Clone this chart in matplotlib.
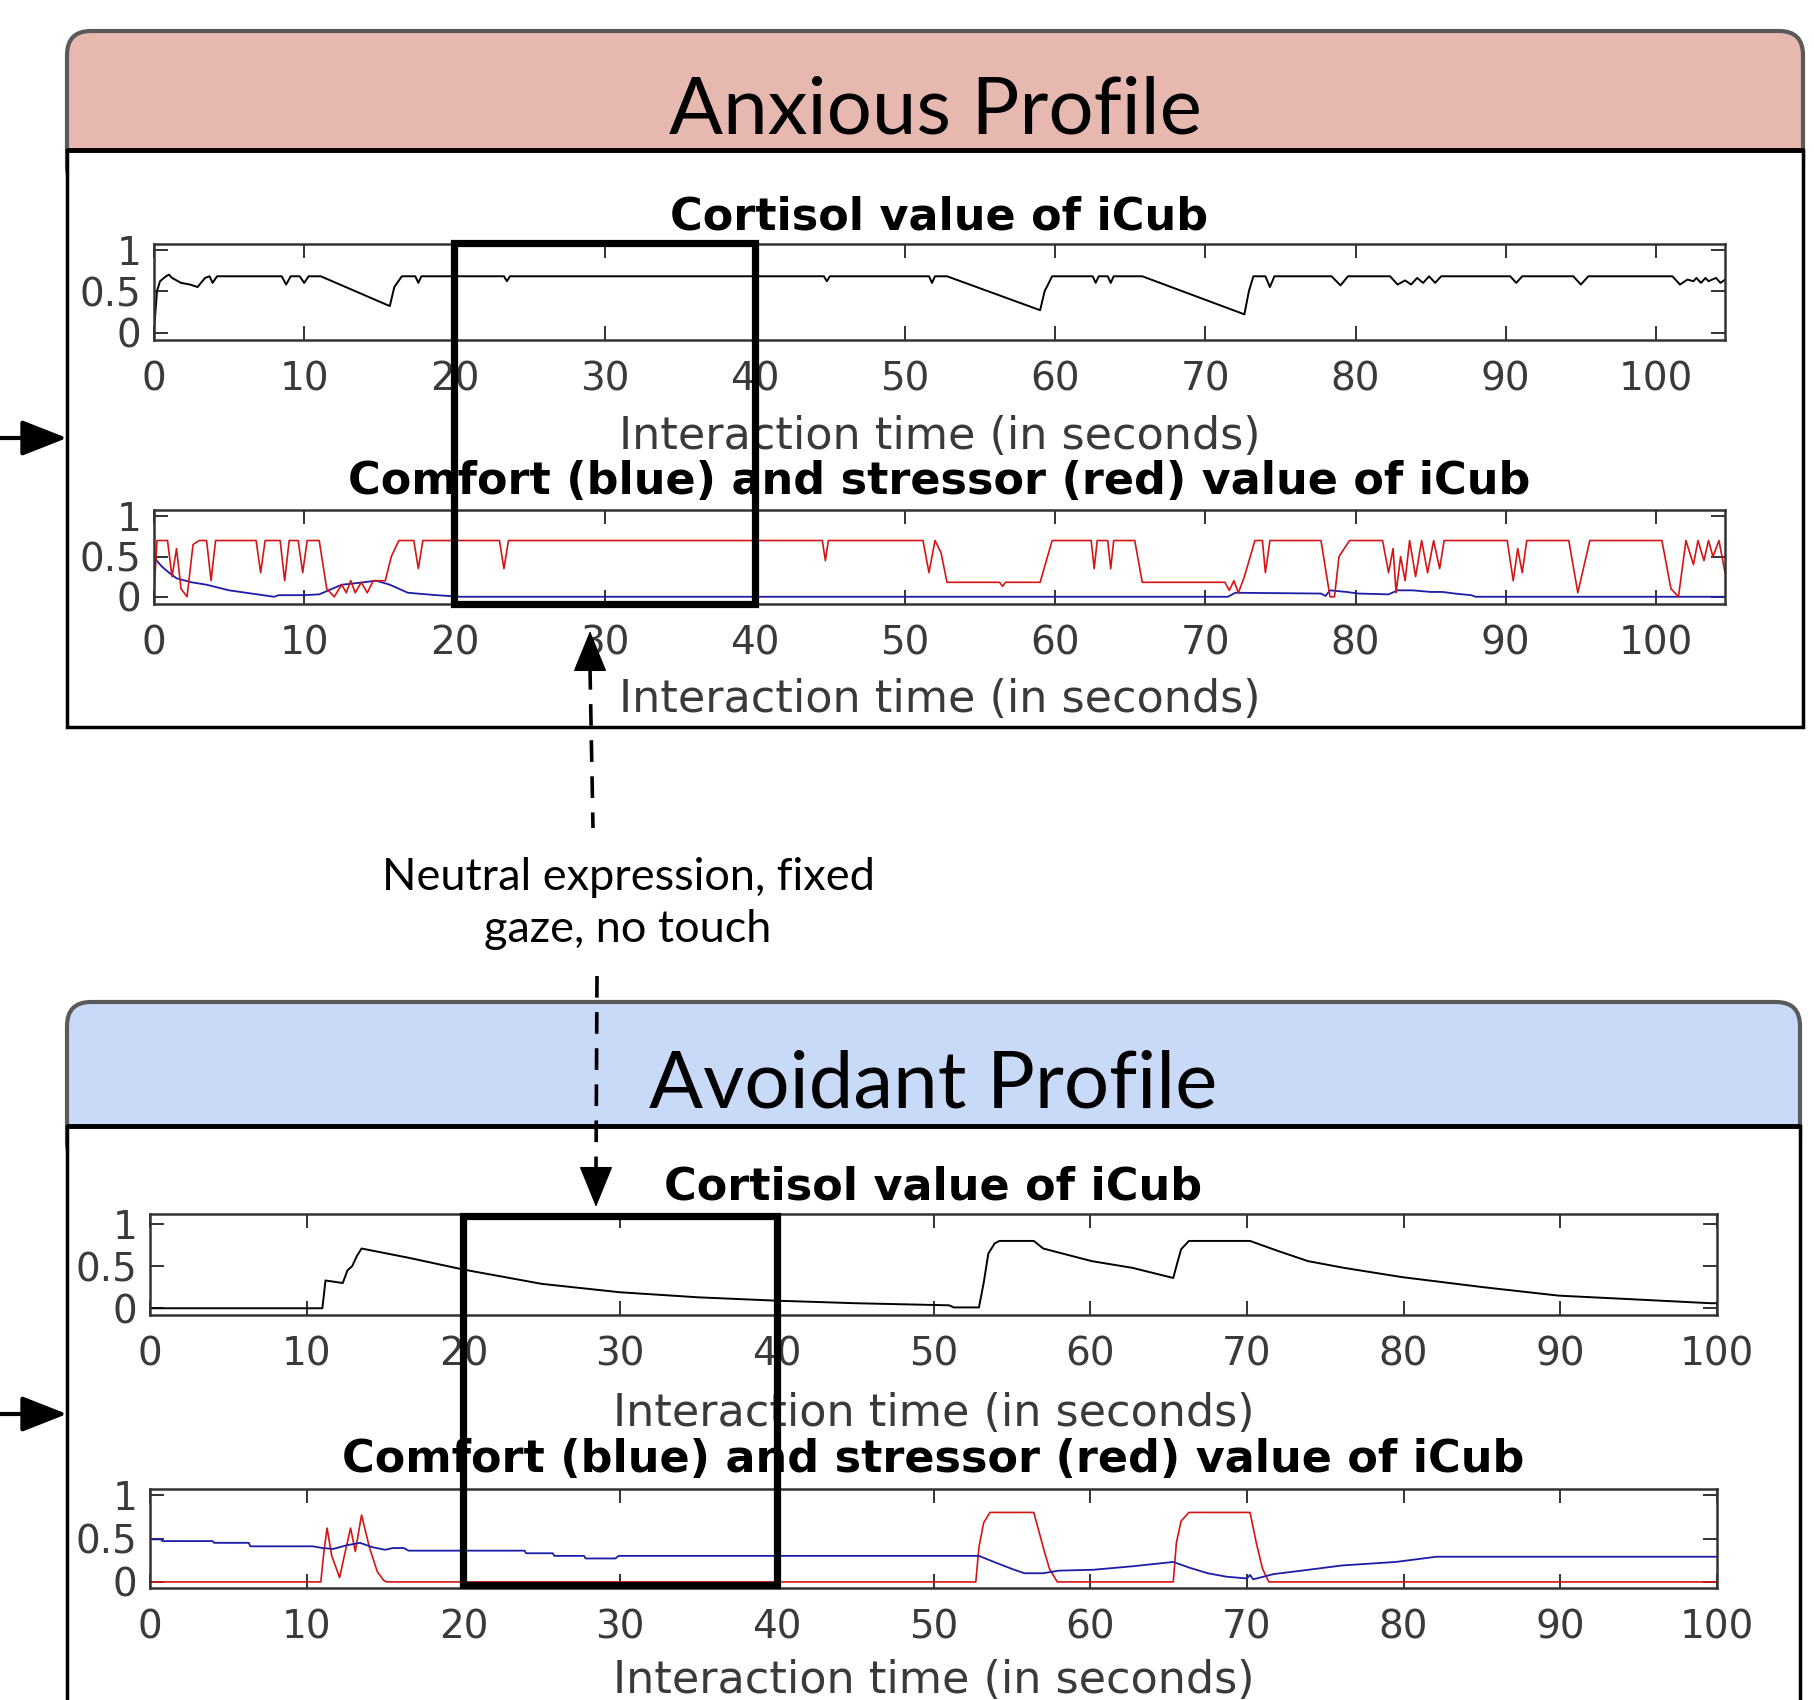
import matplotlib
matplotlib.use("Agg")
import matplotlib.pyplot as plt
from matplotlib.patches import FancyBboxPatch, Rectangle
from matplotlib.transforms import blended_transform_factory

W, H = 1815, 1700

# ---------------- data (time in s, value) ----------------
# Anxious profile: cortisol
anx_cort_t = [0.0, 0.2, 0.4, 0.8, 1.0, 1.2, 1.8, 2.4, 2.9, 3.4, 3.7, 3.9, 4.2,
              8.5, 8.8, 9.1, 9.7, 10.0, 10.3, 11.1, 15.7, 16.0, 16.5, 17.4, 17.6, 17.8,
              23.3, 23.5, 23.7, 44.6, 44.8, 45.0, 51.6, 51.8, 52.0, 52.8, 59.0, 59.3, 59.8,
              62.5, 62.7, 62.9, 63.5, 63.7, 63.9, 65.8, 72.6, 72.9, 73.2, 74.0, 74.3, 74.6,
              78.4, 79.0, 79.5, 82.3, 82.8, 83.3, 83.7, 84.1, 84.5, 84.9, 85.3, 85.7,
              90.3, 90.7, 91.1, 94.5, 95.0, 95.5, 101.1, 101.6, 102.1, 102.5, 102.7, 103.0,
              103.3, 103.5, 104.0, 104.3, 104.6]
anx_cort_v = [0.02, 0.50, 0.62, 0.68, 0.70, 0.66, 0.60, 0.58, 0.55, 0.66, 0.68, 0.60, 0.68,
              0.68, 0.58, 0.68, 0.68, 0.60, 0.68, 0.68, 0.32, 0.55, 0.68, 0.68, 0.60, 0.68,
              0.68, 0.62, 0.68, 0.68, 0.62, 0.68, 0.68, 0.60, 0.68, 0.68, 0.27, 0.50, 0.68,
              0.68, 0.60, 0.68, 0.68, 0.60, 0.68, 0.68, 0.22, 0.50, 0.68, 0.68, 0.55, 0.68,
              0.68, 0.57, 0.68, 0.68, 0.58, 0.63, 0.58, 0.66, 0.60, 0.68, 0.60, 0.68,
              0.68, 0.60, 0.68, 0.68, 0.58, 0.68, 0.68, 0.58, 0.64, 0.62, 0.66, 0.60,
              0.66, 0.62, 0.66, 0.60, 0.64]

# Anxious profile: stressor (red)
anx_str_t = [0.0, 0.2, 0.9, 1.2, 1.5, 1.8, 2.2, 2.6, 3.0, 3.5, 3.8, 4.1,
             6.8, 7.1, 7.4, 8.4, 8.7, 9.0, 9.6, 9.9, 10.2, 11.0,
             11.5, 12.0, 12.5, 12.8, 13.1, 13.4, 13.8, 14.2, 14.6, 15.4, 15.8, 16.3,
             17.3, 17.6, 17.9, 23.0, 23.3, 23.6, 44.5, 44.7, 44.9,
             51.2, 51.6, 52.0, 52.4, 52.8, 56.3, 56.5, 56.7, 59.0, 59.8,
             62.4, 62.6, 62.8, 63.5, 63.7, 63.9, 65.3, 65.8,
             71.3, 71.6, 71.9, 72.2, 72.6, 73.3, 73.8, 74.0, 74.3,
             77.7, 78.3, 78.6, 78.9, 79.6, 81.8, 82.2, 82.5, 82.7, 83.0, 83.3, 83.6,
             84.0, 84.4, 84.8, 85.2, 85.6, 85.9,
             90.1, 90.5, 90.8, 91.1, 91.4, 94.2, 94.8, 95.6,
             100.4, 101.0, 101.5, 102.0, 102.5, 102.8, 103.2, 103.5, 103.8, 104.2, 104.6]
anx_str_v = [0.05, 0.70, 0.70, 0.25, 0.60, 0.10, 0.00, 0.65, 0.70, 0.70, 0.20, 0.70,
             0.70, 0.30, 0.70, 0.70, 0.20, 0.70, 0.70, 0.30, 0.70, 0.70,
             0.10, 0.00, 0.15, 0.05, 0.20, 0.05, 0.18, 0.05, 0.20, 0.20, 0.50, 0.70,
             0.70, 0.35, 0.70, 0.70, 0.35, 0.70, 0.70, 0.45, 0.70,
             0.70, 0.30, 0.70, 0.55, 0.18, 0.18, 0.13, 0.18, 0.18, 0.70,
             0.70, 0.35, 0.70, 0.70, 0.35, 0.70, 0.70, 0.18,
             0.18, 0.08, 0.20, 0.05, 0.25, 0.70, 0.70, 0.30, 0.70,
             0.70, 0.00, 0.00, 0.50, 0.70, 0.70, 0.30, 0.60, 0.05, 0.50, 0.20, 0.70,
             0.25, 0.70, 0.30, 0.70, 0.35, 0.70,
             0.70, 0.20, 0.60, 0.30, 0.70, 0.70, 0.05, 0.70,
             0.70, 0.10, 0.00, 0.70, 0.40, 0.70, 0.45, 0.70, 0.50, 0.70, 0.30]

# Anxious profile: comfort (blue)
anx_com_t = [0.0, 0.5, 1.0, 1.5, 2.5, 3.5, 5.0, 6.5, 8.0, 8.3, 10.0, 11.0, 12.5, 13.5,
             14.8, 15.7, 16.9, 18.8, 20.4, 71.5, 72.0, 77.7, 78.0, 78.3, 79.4, 80.2,
             82.2, 82.8, 83.8, 85.0, 85.8, 86.6, 87.7, 88.0, 104.6]
anx_com_v = [0.49, 0.38, 0.30, 0.23, 0.18, 0.15, 0.08, 0.04, 0.00, 0.02, 0.02, 0.03, 0.15, 0.17,
             0.20, 0.15, 0.05, 0.02, 0.00, 0.00, 0.05, 0.04, 0.01, 0.08, 0.06, 0.04,
             0.03, 0.08, 0.08, 0.06, 0.06, 0.04, 0.02, 0.00, 0.00]

# Avoidant profile: cortisol
avo_cort_t = [0.0, 11.0, 11.2, 12.3, 12.6, 12.9, 13.2, 13.5, 16.5, 20.0, 25.0, 30.0, 35.0,
              40.0, 45.0, 51.0, 51.3, 52.9, 53.2, 53.5, 53.9, 54.2, 56.4, 57.0, 60.1, 62.7,
              65.3, 65.5, 65.8, 66.3, 70.2, 72.0, 73.9, 76.2, 79.9, 85.1, 89.9, 94.8, 99.6, 100.0]
avo_cort_v = [0.00, 0.00, 0.33, 0.30, 0.45, 0.50, 0.62, 0.71, 0.60, 0.46, 0.29, 0.19, 0.13,
              0.09, 0.06, 0.035, 0.01, 0.01, 0.30, 0.65, 0.77, 0.80, 0.80, 0.71, 0.56, 0.48,
              0.36, 0.50, 0.70, 0.80, 0.80, 0.68, 0.56, 0.48, 0.37, 0.25, 0.15, 0.105, 0.06, 0.06]

# Avoidant profile: stressor (red)
avo_str_t = [0.0, 10.9, 11.1, 11.3, 11.6, 12.1, 12.4, 12.8, 13.1, 13.5, 14.0, 14.5, 14.9, 15.1,
             52.7, 52.9, 53.2, 53.6, 56.4, 56.7, 57.0, 57.4, 57.9,
             65.3, 65.5, 65.8, 66.3, 70.2, 70.6, 71.0, 71.4, 100.0]
avo_str_v = [0.00, 0.00, 0.35, 0.62, 0.30, 0.05, 0.30, 0.62, 0.35, 0.77, 0.40, 0.12, 0.02, 0.00,
             0.00, 0.40, 0.68, 0.80, 0.80, 0.60, 0.40, 0.15, 0.00,
             0.00, 0.45, 0.70, 0.80, 0.80, 0.45, 0.15, 0.00, 0.00]

# Avoidant profile: comfort (blue)
avo_com_t = [0.0, 0.7, 0.8, 4.0, 4.1, 6.3, 6.4, 10.4, 11.0, 11.7, 12.5, 13.4, 14.2, 15.0, 15.5,
             16.2, 16.5, 23.9, 24.0, 25.7, 25.8, 27.7, 27.8, 29.7, 29.9, 52.9, 54.0, 55.0,
             55.8, 57.0, 58.0, 60.2, 62.7, 65.3, 66.4, 67.5, 68.7, 70.0, 70.2, 70.4, 71.7,
             73.5, 76.1, 79.5, 82.1, 100.0]
avo_com_v = [0.49, 0.49, 0.47, 0.47, 0.45, 0.45, 0.41, 0.41, 0.39, 0.38, 0.42, 0.45, 0.40, 0.37, 0.39,
             0.39, 0.36, 0.36, 0.33, 0.33, 0.30, 0.30, 0.27, 0.27, 0.30, 0.30, 0.22, 0.15,
             0.10, 0.10, 0.13, 0.14, 0.18, 0.23, 0.16, 0.10, 0.06, 0.04, 0.08, 0.03, 0.09,
             0.13, 0.19, 0.23, 0.29, 0.29]

XTICKS = list(range(0, 101, 10))
YTICKS = [0, 0.5, 1]
YTICKLABELS = ['0', '0.5', '1']

CORT_TITLE = 'Cortisol value of iCub'
CS_TITLE = 'Comfort (blue) and stressor (red) value of iCub'
XLABEL = 'Interaction time (in seconds)'

RED = '#d41515'
BLUE = '#1c1ca8'
GRAY = '#3a3a3a'

fig = plt.figure(figsize=(W / 100, H / 100), dpi=100)


def px_rect(l, t, r, b):
    return [l / W, 1 - b / H, (r - l) / W, (b - t) / H]


def ftext(x, y, s, **kw):
    return fig.text(x / W, 1 - y / H, s, **kw)


# background: panels, headers
bg = fig.add_axes([0, 0, 1, 1], zorder=0)
bg.set_xlim(0, W)
bg.set_ylim(H, 0)
bg.axis('off')

panels = [((67, 31, 1803, 150, 727), '#e6b8af', 'Anxious Profile', 133, 438),
          ((67, 1002, 1800, 1126, 1720), '#c9daf8', 'Avoidant Profile', 1108, 1414)]
for (l, top, r, hb, bb), col, name, base, ay in panels:
    bg.add_patch(FancyBboxPatch((l, top), r - l, hb - top + 40,
                                boxstyle='round,pad=0,rounding_size=24',
                                fc=col, ec='#5a5a5a', lw=3))
    bg.add_patch(Rectangle((l, hb), r - l, bb - hb, fc='white', ec='black', lw=2.5))
    bg.plot([l, r], [hb, hb], color='black', lw=3.5, solid_capstyle='butt')
    bg.text((l + r) / 2, base, name, ha='center', va='baseline', family='Lato',
            fontsize=57.5, color='black')
    bg.annotate('', xy=(l, ay), xytext=(0, ay),
                arrowprops=dict(arrowstyle='-|>,head_length=1.4,head_width=0.55',
                                lw=3, color='black', mutation_scale=20,
                                shrinkA=0, shrinkB=0))


def setup(ax, xmax, ylim):
    ax.set_xlim(0, xmax)
    ax.set_ylim(*ylim)
    ax.set_xticks(XTICKS)
    ax.set_yticks(YTICKS, YTICKLABELS)
    ax.tick_params(direction='in', top=True, right=True, length=10, width=1.4,
                   color='#333333', labelsize=28, labelcolor=GRAY)
    ax.tick_params(axis='x', pad=15)
    ax.tick_params(axis='y', pad=9)
    for s in ax.spines.values():
        s.set_linewidth(1.8)
        s.set_color('#333333')


boxes = [(154, 244, 1725, 340), (154, 510, 1725, 604),
         (150, 1214, 1717, 1315), (150, 1489, 1717, 1588)]
ax1 = fig.add_axes(px_rect(*boxes[0]), zorder=1)
ax2 = fig.add_axes(px_rect(*boxes[1]), zorder=1)
ax3 = fig.add_axes(px_rect(*boxes[2]), zorder=1)
ax4 = fig.add_axes(px_rect(*boxes[3]), zorder=1)

setup(ax1, 104.6, (-0.09, 1.07))
setup(ax2, 104.6, (-0.09, 1.08))
setup(ax3, 100, (-0.08, 1.12))
setup(ax4, 100, (-0.07, 1.07))

ax1.plot(anx_cort_t, anx_cort_v, color='black', lw=1.4)
ax2.plot(anx_com_t, anx_com_v, color=BLUE, lw=1.3)
ax2.plot(anx_str_t, anx_str_v, color=RED, lw=1.2)
ax3.plot(avo_cort_t, avo_cort_v, color='black', lw=1.4)
ax4.plot(avo_str_t, avo_str_v, color=RED, lw=1.2)
ax4.plot(avo_com_t, avo_com_v, color=BLUE, lw=1.3)

# titles and x labels
text_pos = [(boxes[0], CORT_TITLE, 229, 449), (boxes[1], CS_TITLE, 494, 712),
            (boxes[2], CORT_TITLE, 1199, 1426), (boxes[3], CS_TITLE, 1472, 1693)]
for (l, t, r, b), title, tb, xb in text_pos:
    cx = (l + r) / 2
    ftext(cx, tb, title, ha='center', va='baseline', fontsize=32, fontweight='bold',
          color='black')
    ftext(cx, xb, XLABEL, ha='center', va='baseline', fontsize=32, color=GRAY)

# highlighted 20-40 s windows
for axd, top, bottom in [(ax1, 243, 604), (ax3, 1216, 1585)]:
    tr = blended_transform_factory(axd.transData, fig.transFigure)
    fig.add_artist(Rectangle((20, 1 - bottom / H), 20, (bottom - top) / H, transform=tr,
                             fill=False, ec='black', lw=5.2, joinstyle='miter', zorder=5))

# dashed arrows and annotation
ov = fig.add_axes([0, 0, 1, 1], zorder=6)
ov.set_xlim(0, W)
ov.set_ylim(H, 0)
ov.axis('off')
ov.plot([590, 593], [668, 828], color='black', lw=2.6, dashes=(6, 4))
ov.plot([597, 596], [976, 1170], color='black', lw=2.6, dashes=(6, 4))
ov.annotate('', xy=(590, 631), xytext=(590, 670),
            arrowprops=dict(arrowstyle='-|>,head_length=1.35,head_width=0.55',
                            color='black', lw=1, mutation_scale=20, shrinkA=0, shrinkB=0))
ov.annotate('', xy=(596, 1207), xytext=(596, 1168),
            arrowprops=dict(arrowstyle='-|>,head_length=1.35,head_width=0.55',
                            color='black', lw=1, mutation_scale=20, shrinkA=0, shrinkB=0))
ov.text(628, 890, 'Neutral expression, fixed', ha='center', va='baseline',
        family='Lato', fontsize=32.5, color='black')
ov.text(628, 942, 'gaze, no touch', ha='center', va='baseline',
        family='Lato', fontsize=32.5, color='black')

fig.savefig('out.png', dpi=100)
